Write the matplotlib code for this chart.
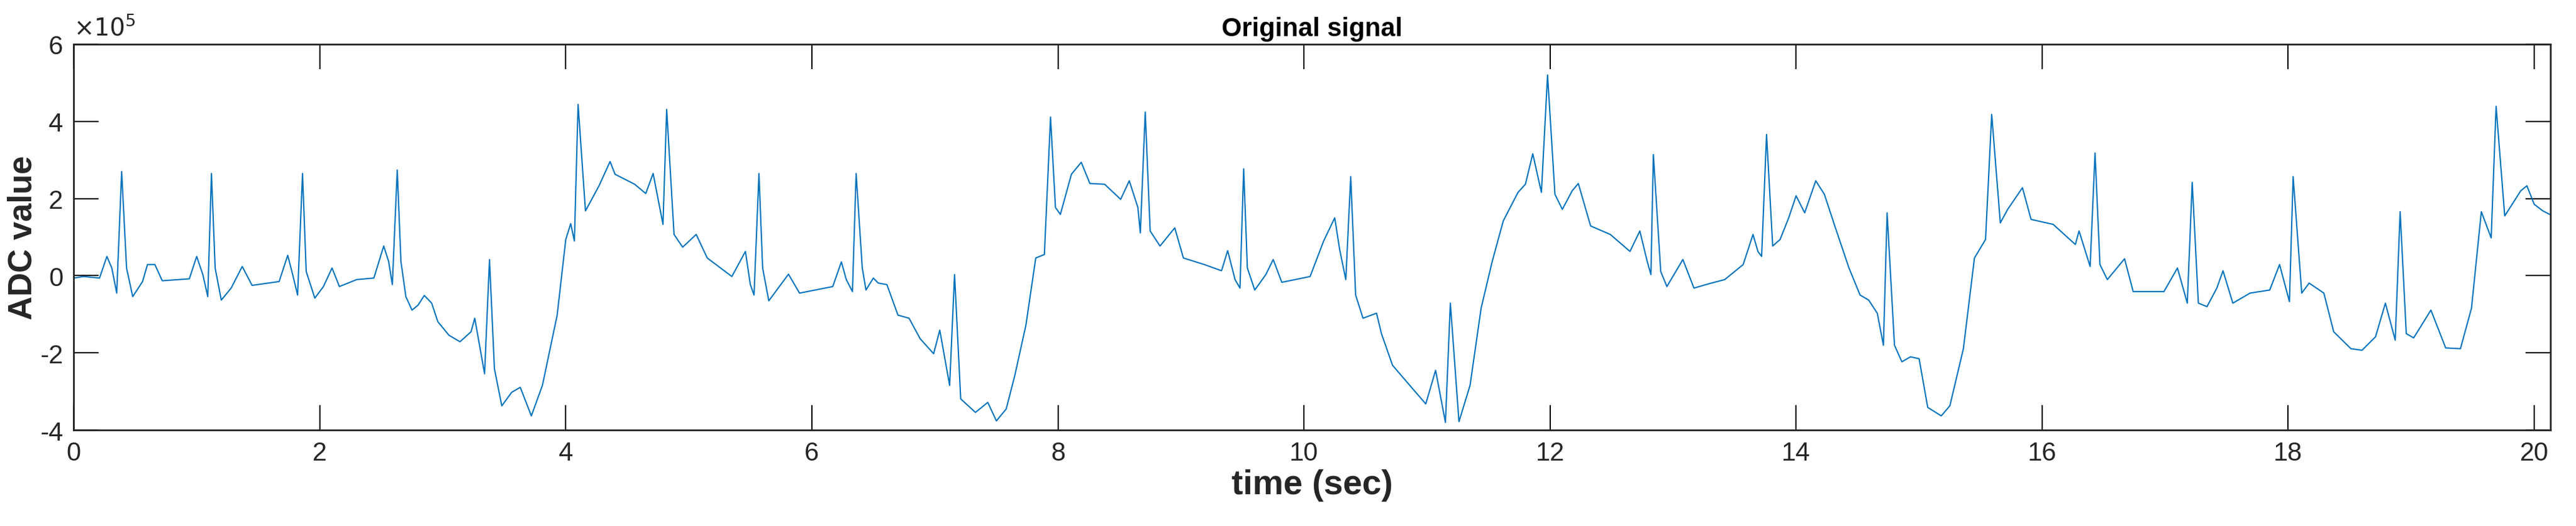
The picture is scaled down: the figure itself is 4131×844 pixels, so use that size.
import matplotlib
matplotlib.use("Agg")
import matplotlib.pyplot as plt
import matplotlib.ticker as mticker
import numpy as np

# ── Data (time in sec, value in units of 1e5 ADC counts) ─────────────────────
t = [0.0, 0.08, 0.21, 0.27, 0.31, 0.35, 0.39, 0.43, 0.48, 0.56, 0.6, 0.66, 0.72,
     0.94, 1.0, 1.05, 1.09, 1.12, 1.15, 1.2, 1.28, 1.37, 1.45, 1.67, 1.74, 1.78,
     1.82, 1.86, 1.89, 1.96, 2.03, 2.1, 2.16, 2.3, 2.44, 2.52, 2.56, 2.59, 2.63,
     2.66, 2.7, 2.75, 2.8, 2.85, 2.91, 2.96, 3.05, 3.14, 3.23, 3.26, 3.34, 3.38,
     3.42, 3.48, 3.56, 3.63, 3.72, 3.81, 3.93, 4.0, 4.04, 4.07, 4.1, 4.16, 4.27,
     4.36, 4.4, 4.56, 4.65, 4.71, 4.79, 4.82, 4.88, 4.95, 5.06, 5.15, 5.35, 5.46,
     5.5, 5.53, 5.57, 5.6, 5.65, 5.81, 5.9, 6.17, 6.24, 6.28, 6.33, 6.36, 6.41,
     6.44, 6.5, 6.54, 6.61, 6.7, 6.79, 6.88, 6.99, 7.04, 7.12, 7.16, 7.21, 7.33,
     7.43, 7.5, 7.58, 7.65, 7.74, 7.82, 7.89, 7.94, 7.98, 8.02, 8.11, 8.19, 8.26,
     8.38, 8.51, 8.58, 8.65, 8.67, 8.71, 8.75, 8.83, 8.95, 9.02, 9.19, 9.33, 9.38,
     9.44, 9.48, 9.51, 9.54, 9.6, 9.69, 9.75, 9.82, 10.05, 10.16, 10.25, 10.29,
     10.34, 10.38, 10.42, 10.48, 10.59, 10.63, 10.72, 10.86, 10.99, 11.07, 11.15,
     11.19, 11.26, 11.35, 11.44, 11.53, 11.62, 11.74, 11.8, 11.86, 11.93, 11.98,
     12.04, 12.1, 12.18, 12.23, 12.33, 12.49, 12.65, 12.73, 12.79, 12.82, 12.84,
     12.9, 12.95, 13.08, 13.17, 13.3, 13.42, 13.57, 13.65, 13.69, 13.72, 13.76,
     13.81, 13.87, 13.94, 14.0, 14.07, 14.16, 14.23, 14.32, 14.43, 14.52, 14.59,
     14.66, 14.71, 14.74, 14.8, 14.86, 14.93, 15.0, 15.07, 15.18, 15.25, 15.36,
     15.45, 15.54, 15.59, 15.66, 15.72, 15.84, 15.91, 16.09, 16.27, 16.3, 16.39,
     16.43, 16.47, 16.53, 16.67, 16.74, 16.99, 17.1, 17.18, 17.22, 17.27, 17.34,
     17.42, 17.47, 17.55, 17.69, 17.85, 17.93, 18.01, 18.04, 18.11, 18.17, 18.29,
     18.37, 18.51, 18.6, 18.71, 18.79, 18.87, 18.91, 18.96, 19.02, 19.16, 19.28,
     19.4, 19.49, 19.57, 19.65, 19.69, 19.76, 19.89, 19.94, 20.0, 20.07, 20.15]
v = [-0.06, -0.02, -0.06, 0.5, 0.2, -0.45, 2.7, 0.2, -0.54, -0.15, 0.29, 0.29, -0.13,
     -0.08, 0.5, 0.03, -0.54, 2.65, 0.2, -0.63, -0.32, 0.24, -0.25, -0.15, 0.53, 0.03,
     -0.5, 2.65, 0.11, -0.58, -0.28, 0.2, -0.28, -0.1, -0.06, 0.77, 0.37, -0.23, 2.74,
     0.37, -0.54, -0.89, -0.76, -0.51, -0.71, -1.19, -1.54, -1.71, -1.45, -1.1, -2.54, 0.42,
     -2.41, -3.37, -3.02, -2.89, -3.63, -2.84, -1.02, 0.94, 1.35, 0.9, 4.44, 1.68, 2.33,
     2.96, 2.63, 2.37, 2.13, 2.65, 1.33, 4.31, 1.07, 0.74, 1.07, 0.46, -0.02, 0.63,
     -0.23, -0.5, 2.65, 0.2, -0.65, 0.04, -0.45, -0.28, 0.36, -0.1, -0.41, 2.65, 0.2,
     -0.37, -0.06, -0.19, -0.23, -1.02, -1.1, -1.63, -2.02, -1.41, -2.84, 0.03, -3.19, -3.54,
     -3.28, -3.76, -3.45, -2.58, -1.28, 0.46, 0.55, 4.11, 1.77, 1.59, 2.63, 2.94, 2.39,
     2.37, 1.98, 2.46, 1.77, 1.11, 4.24, 1.16, 0.77, 1.24, 0.46, 0.29, 0.13, 0.65,
     -0.1, -0.32, 2.77, 0.2, -0.37, 0.03, 0.42, -0.17, -0.02, 0.9, 1.5, 0.68,
     -0.1, 2.57, -0.5, -1.1, -0.97, -1.5, -2.32, -2.84, -3.32, -2.45, -3.8,
     -0.71, -3.78, -2.84, -0.84, 0.37, 1.42, 2.16, 2.37, 3.16, 2.16, 5.2,
     2.11, 1.72, 2.2, 2.39, 1.29, 1.07, 0.63, 1.16, 0.37, 0.03, 3.14,
     0.11, -0.28, 0.42, -0.32, -0.2, -0.1, 0.29, 1.07, 0.63, 0.5, 3.66,
     0.77, 0.94, 1.5, 2.07, 1.63, 2.46, 2.11, 1.24, 0.2, -0.5, -0.63,
     -0.97, -1.8, 1.63, -1.8, -2.23, -2.1, -2.15, -3.41, -3.63, -3.37, -1.89,
     0.46, 0.94, 4.18, 1.37, 1.72, 2.28, 1.46, 1.33, 0.81, 1.16, 0.24,
     3.18, 0.29, -0.1, 0.44, -0.41, -0.41, 0.2, -0.71, 2.42, -0.71, -0.8,
     -0.32, 0.13, -0.71, -0.45, -0.37, 0.29, -0.67, 2.57, -0.45, -0.19, -0.45,
     -1.45, -1.89, -1.93, -1.58, -0.71, -1.67, 1.66, -1.5, -1.61, -0.89, -1.87,
     -1.89, -0.84, 1.66, 0.98, 4.39, 1.55, 2.2, 2.33, 1.85, 1.68, 1.55]

x_ticks = [0, 2, 4, 6, 8, 10, 12, 14, 16, 18, 20]
y_ticks = [-4e5, -2e5, 0, 2e5, 4e5, 6e5]

# ── Plot ─────────────────────────────────────────────────────────────────────
plt.rcParams["font.family"] = ["Liberation Sans", "DejaVu Sans"]
plt.rcParams["axes.unicode_minus"] = False
fig = plt.figure(figsize=(41.31, 8.45), dpi=100)
ax = fig.add_axes([0.0286, 0.182, 0.9614, 0.733])

ax.plot(t, np.array(v) * 1e5, color="#0072BD", lw=1.5)

ax.set_xlim(0, 20.13)
ax.set_ylim(-4e5, 6e5)
ax.set_xticks(x_ticks)
ax.set_yticks(y_ticks)
# MATLAB-style: ticks in units of 1e5, exponent shown above the axis
ax.yaxis.set_major_formatter(mticker.FuncFormatter(lambda val, _: f"{val / 1e5:g}"))
ax.text(0.0, 1.012, r"$\times10^{5}$", transform=ax.transAxes, fontsize=28,
        color="#262626", ha="left", va="bottom")

ax.tick_params(direction="in", length=29, width=1.5, top=True, right=True,
               labelsize=30, labelcolor="#262626", pad=12)
for s in ax.spines.values():
    s.set_linewidth(2)
    s.set_color("#262626")

ax.set_title("Original signal", fontsize=30, fontweight="bold", pad=10)
ax.set_xlabel("time (sec)", fontsize=40, fontweight="bold", color="#262626")
ax.set_ylabel("ADC value", fontsize=38, fontweight="bold", color="#262626",
              labelpad=2)

fig.savefig("out.png", dpi=100)
